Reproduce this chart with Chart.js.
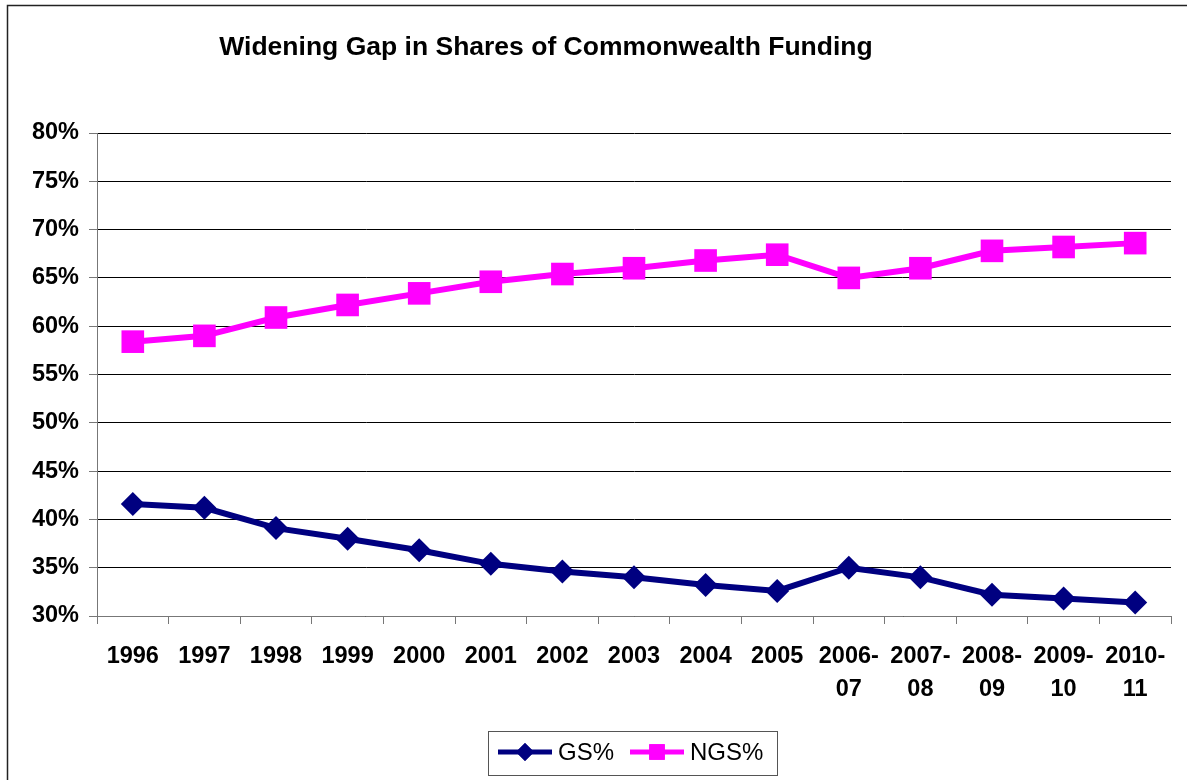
<!DOCTYPE html>
<html>
<head>
<meta charset="utf-8">
<script src="https://cdn.jsdelivr.net/npm/chart.js@4.4.1/dist/chart.umd.min.js"></script>
<style>
  html, body { margin: 0; padding: 0; background: #fff; }
  #wrap { width: 1187px; height: 780px; position: relative; }
</style>
</head>
<body>
<div id="wrap"><canvas id="gap"></canvas></div>
<script>
// Chart data
const chartTitle = 'Widening Gap in Shares of Commonwealth Funding';
const years = ['1996', '1997', '1998', '1999', '2000', '2001', '2002', '2003', '2004', '2005',
  ['2006-', '07'], ['2007-', '08'], ['2008-', '09'], ['2009-', '10'], ['2010-', '11']];
const gsShare = [41.6, 41.2, 39.1, 38.0, 36.8, 35.4, 34.6, 34.0, 33.2, 32.6, 35.0, 34.0, 32.2, 31.8, 31.4];
const ngsShare = [58.4, 59.0, 60.9, 62.2, 63.4, 64.6, 65.4, 66.0, 66.8, 67.4, 65.0, 66.0, 67.8, 68.2, 68.6];
const seriesNames = ['GS%', 'NGS%'];

const navy = '#000080';
const magenta = '#ff00ff';
const fontFamily = 'Arial, "Liberation Sans", sans-serif';

// Outer frame, title and legend box drawn like the original spreadsheet chart
const decorations = {
  id: 'decorations',
  beforeDraw(chart) {
    const ctx = chart.ctx;
    ctx.save();
    ctx.fillStyle = '#fff';
    ctx.fillRect(0, 0, chart.width, chart.height);
    ctx.strokeStyle = '#222';
    ctx.lineWidth = 1.5;
    ctx.strokeRect(7.5, 5.5, 1300, 900);
    ctx.restore();
  },
  afterDraw(chart) {
    const ctx = chart.ctx;
    ctx.save();
    // title
    ctx.fillStyle = '#000';
    ctx.font = 'bold 26.5px ' + fontFamily;
    ctx.textAlign = 'center';
    ctx.textBaseline = 'middle';
    ctx.fillText(chartTitle, 546, 48);

    // legend
    const bx = 488, by = 731, bw = 289, bh = 44;
    ctx.strokeStyle = '#555';
    ctx.lineWidth = 1;
    ctx.strokeRect(bx + 0.5, by + 0.5, bw, bh);
    ctx.font = '24px ' + fontFamily;
    ctx.textAlign = 'left';
    const items = [
      { x: 498, color: navy, style: 'rectRot', r: 9, textX: 558 },
      { x: 630, color: magenta, style: 'rect', r: 11, textX: 690 }
    ];
    items.forEach((it, i) => {
      const cy = by + 21;
      ctx.strokeStyle = it.color;
      ctx.lineWidth = 5;
      ctx.beginPath();
      ctx.moveTo(it.x, cy);
      ctx.lineTo(it.x + 54, cy);
      ctx.stroke();
      ctx.fillStyle = it.color;
      Chart.helpers.drawPoint(ctx, { pointStyle: it.style, radius: it.r, borderWidth: 0 }, it.x + 27, cy);
      ctx.fill();
      ctx.fillStyle = '#000';
      ctx.fillText(seriesNames[i], it.textX, cy + 1);
    });
    ctx.restore();
  }
};

new Chart(document.getElementById('gap'), {
  type: 'line',
  data: {
    labels: years,
    datasets: [
      {
        label: seriesNames[0],
        data: gsShare,
        borderColor: navy,
        backgroundColor: navy,
        borderWidth: 6,
        pointStyle: 'rectRot',
        pointRadius: 12,
        pointBorderWidth: 0,
        tension: 0
      },
      {
        label: seriesNames[1],
        data: ngsShare,
        borderColor: magenta,
        backgroundColor: magenta,
        borderWidth: 6,
        pointStyle: 'rect',
        pointRadius: 16,
        pointBorderWidth: 0,
        tension: 0
      }
    ]
  },
  options: {
    responsive: true,
    maintainAspectRatio: false,
    animation: false,
    layout: {
      padding: { left: 0, top: 133, right: 16, bottom: 0 }
    },
    plugins: {
      legend: { display: false },
      title: { display: false },
      tooltip: { enabled: false }
    },
    scales: {
      x: {
        offset: true,
        afterFit: function(scale) { scale.height = 164; },
        border: { display: true, color: '#777', width: 1 },
        grid: {
          offset: true,
          drawOnChartArea: false,
          drawTicks: true,
          tickLength: 8,
          color: '#777'
        },
        ticks: {
          color: '#000',
          maxRotation: 0,
          autoSkip: false,
          padding: 16,
          font: { family: fontFamily, size: 23.5, weight: 'bold', lineHeight: 1.4 }
        }
      },
      y: {
        min: 30,
        max: 80,
        afterFit: function(scale) { scale.width = 97; },
        border: { display: true, color: '#777', width: 1 },
        grid: {
          color: '#000',
          lineWidth: 1,
          drawTicks: true,
          tickLength: 8,
          tickColor: '#777'
        },
        ticks: {
          stepSize: 5,
          color: '#000',
          padding: 10,
          font: { family: fontFamily, size: 23.5, weight: 'bold' },
          callback: function(value) { return value + '%'; }
        }
      }
    }
  },
  plugins: [decorations]
});
</script>
</body>
</html>
